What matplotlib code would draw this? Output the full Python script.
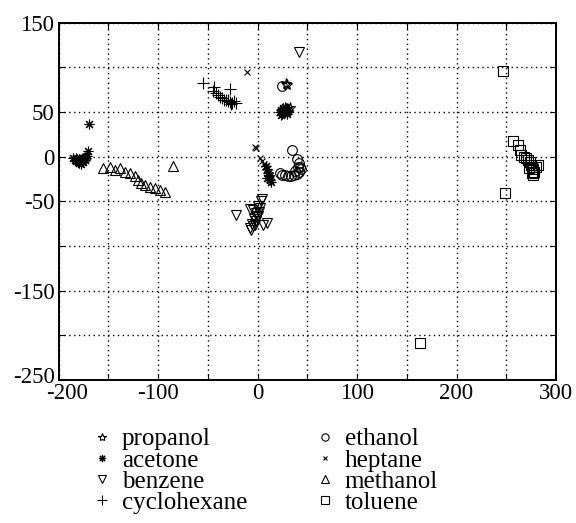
import matplotlib
matplotlib.use('Agg')
import matplotlib.pyplot as plt
import matplotlib.transforms as mtransforms

plt.rcParams['font.family'] = ['Liberation Serif', 'DejaVu Serif']

# point clouds
propanol_x = [30, 29, 33, 27, 30, 25]
propanol_y = [80, 81, 55, 51, 53, 49]

acetone_x = [-186, -184, -183, -182, -181, -180, -179, -178, -177, -176, -175, -174,
             -173, -172, -183, -180, -178, -176, -174, -170, -171,
             22, 24, 25, 26, 27, 28, 29, 30, 31, 24, 26, 28, 30,
             8, 9, 10, 11, 12, 13, 9, 11]
acetone_y = [-2, -4, -5, -3, -6, -7, -4, -5, -3, -2, -1, 0,
             -2, 1, -1, -3, -8, -6, -4, 37, 6,
             50, 52, 48, 53, 49, 51, 55, 50, 52, 47, 54, 56, 48,
             -10, -14, -18, -22, -26, -28, -24, -20]

benzene_x = [42, -22, 4, 3, -8, -5, 0, 2, -2, 0, -4, -2, -6, -8, -5, -3, 9, 5, -1, 1, -7]
benzene_y = [117, -65, -47, -50, -58, -60, -55, -57, -63, -66, -70, -72, -75, -80, -78,
             -76, -74, -77, -68, -62, -82]

cyclohexane_x = [-55, -44, -28, -45, -42, -40, -38, -36, -34, -32, -30, -28, -26, -24,
                 -27, -30, -22]
cyclohexane_y = [82, 78, 76, 74, 71, 69, 67, 66, 64, 63, 62, 61, 60, 62, 59, 64, 60]

ethanol_x = [25, 35, 40, 42, 43, 44, 42, 40, 37, 34, 31, 28, 25, 22, 38, 41]
ethanol_y = [79, 7, -3, -7, -11, -14, -17, -19, -20, -22, -22, -21, -20, -18, -16, -12]

heptane_x = [-11, -3, -2, 2, 4, 6, 8, 9, 11, 12, 10, 7]
heptane_y = [95, 11, 10, -2, -5, -8, -11, -14, -17, -20, -24, -12]

methanol_x = [-85, -155, -148, -143, -138, -133, -128, -123, -120, -117, -113, -108,
              -103, -98, -93]
methanol_y = [-10, -13, -11, -15, -13, -17, -18, -22, -26, -30, -32, -34, -35, -37, -40]

toluene_x = [247, 249, 163, 257, 262, 264, 265, 268, 270, 272, 274, 275, 276, 277,
             278, 282, 277, 276, 273, 280]
toluene_y = [96, -41, -209, 18, 13, 7, 2, 0, -2, -4, -6, -9, -11, -14, -17, -9, -20,
             -18, -13, -12]

series = [
    ('propanol', propanol_x, propanol_y, '*', 8),
    ('acetone', acetone_x, acetone_y, (8, 2, 0), 7),
    ('benzene', benzene_x, benzene_y, 'v', 7),
    ('cyclohexane', cyclohexane_x, cyclohexane_y, '+', 9),
    ('ethanol', ethanol_x, ethanol_y, 'o', 7),
    ('heptane', heptane_x, heptane_y, 'x', 4),
    ('methanol', methanol_x, methanol_y, '^', 7),
    ('toluene', toluene_x, toluene_y, 's', 7),
]

fig = plt.figure(figsize=(5.76, 5.23), dpi=100)
ax = fig.add_axes([0.1019, 0.2734, 0.8634, 0.6832])

for name, xs, ys, mk, ms in series:
    ax.plot(xs, ys, linestyle='none', marker=mk, ms=ms, mfc='none', mec='black',
            mew=0.8, label=name)

ax.set_xlim(-200, 300)
ax.set_ylim(-250, 150)
xt = list(range(-200, 301, 50))
ax.set_xticks(xt)
ax.set_xticklabels([str(v) if v % 100 == 0 else '' for v in xt])
yt = list(range(-250, 151, 50))
ax.set_yticks(yt)
ylab = {150: '150', 50: '50', 0: '0', -50: '-50', -150: '-150', -250: '-250'}
ax.set_yticklabels([ylab.get(v, '') for v in yt])
ax.tick_params(direction='in', length=4, top=True, right=True, labelsize=16.5)
ax.tick_params(axis='x', pad=2)
ax.tick_params(axis='y', pad=3)
ax.grid(True, color='black', linestyle=(0, (1, 2.5)), linewidth=1)
ax.set_axisbelow(True)
for s in ax.spines.values():
    s.set_linewidth(1.4)

# corner labels nudged apart like the original
lbl = ax.get_xticklabels()[0]
lbl.set_transform(lbl.get_transform() + mtransforms.ScaledTranslation(8 / 100, 0, fig.dpi_scale_trans))
lbl = ax.get_yticklabels()[0]
lbl.set_transform(lbl.get_transform() + mtransforms.ScaledTranslation(0, 5 / 100, fig.dpi_scale_trans))

fig.legend(loc='upper left', bbox_to_anchor=(0.155, 0.182), ncol=2, frameon=False,
           fontsize=18, markerscale=0.75, handlelength=1.0, handletextpad=0.3,
           labelspacing=-0.05, columnspacing=2.6, borderaxespad=0, borderpad=0)

fig.savefig('out.png', dpi=100)
